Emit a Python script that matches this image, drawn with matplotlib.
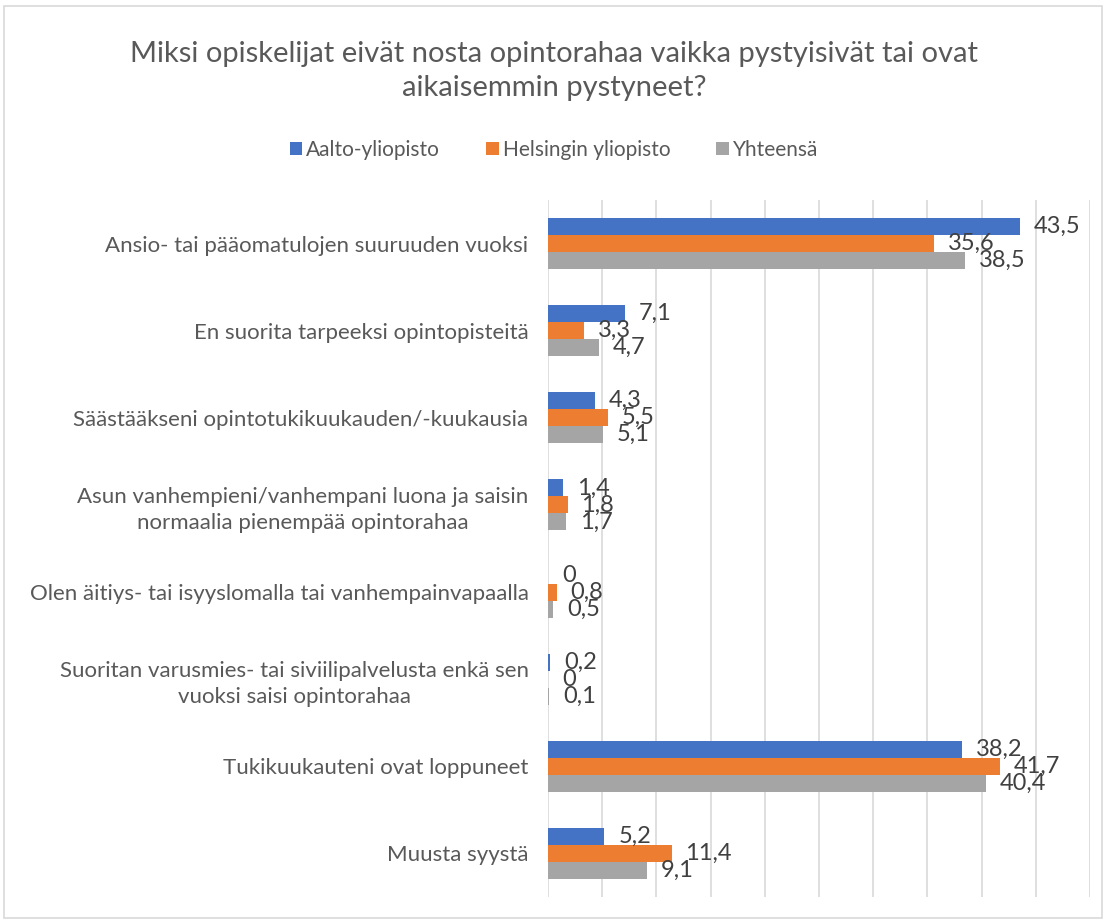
import numpy as np
import matplotlib.pyplot as plt
from matplotlib.patches import Rectangle

plt.rcParams['font.family'] = ['Lato', 'DejaVu Sans']

# Data
categories = [
    'Ansio- tai pääomatulojen suuruuden vuoksi',
    'En suorita tarpeeksi opintopisteitä',
    'Säästääkseni opintotukikuukauden/-kuukausia',
    'Asun vanhempieni/vanhempani luona ja saisin\nnormaalia pienempää opintorahaa',
    'Olen äitiys- tai isyyslomalla tai vanhempainvapaalla',
    'Suoritan varusmies- tai siviilipalvelusta enkä sen\nvuoksi saisi opintorahaa',
    'Tukikuukauteni ovat loppuneet',
    'Muusta syystä',
]
series_names = ['Aalto-yliopisto', 'Helsingin yliopisto', 'Yhteensä']
aalto = [43.5, 7.1, 4.3, 1.4, 0, 0.2, 38.2, 5.2]
helsinki = [35.6, 3.3, 5.5, 1.8, 0.8, 0, 41.7, 11.4]
total = [38.5, 4.7, 5.1, 1.7, 0.5, 0.1, 40.4, 9.1]
colors = ['#4472C4', '#ED7D31', '#A5A5A5']

fig = plt.figure(figsize=(11.08, 9.24), dpi=100)
ax = fig.add_axes([548 / 1108, 1 - 897 / 924, (1090 - 548) / 1108, (897 - 200) / 924])

# figure border
fig.patches.append(Rectangle((4 / 1108, 6 / 924), 1098 / 1108, 912 / 924,
                             transform=fig.transFigure, fill=False,
                             edgecolor='#D9D9D9', linewidth=1.2))

y = np.arange(len(categories))
h = 0.195
for k, (vals, col, name) in enumerate(zip([aalto, helsinki, total], colors, series_names)):
    pos = y + (k - 1) * h
    ax.barh(pos, vals, height=h, color=col, label=name, zorder=3)
    for p, v in zip(pos, vals):
        ax.annotate(f'{v:g}'.replace('.', ','), (v, p), xytext=(10, 0),
                    textcoords='offset points', ha='left', va='center',
                    fontsize=17, color='#404040', zorder=4)

ax.set_xlim(0, 50)
ax.set_ylim(len(categories) - 0.5, -0.5)
ax.set_xticks(np.arange(0, 51, 5))
ax.tick_params(axis='x', length=0, labelbottom=False)
ax.tick_params(axis='y', length=0, pad=14)
ax.set_yticks(y)
ax.set_yticklabels(categories, fontsize=16, color='#595959')
for t in ax.get_yticklabels():
    t.set_multialignment('center')
    t.set_linespacing(1.35)
ax.grid(axis='x', color='#D9D9D9', linewidth=1.2, zorder=0)
for s in ax.spines.values():
    s.set_visible(False)

fig.text(0.5, 1 - 71 / 924,
         'Miksi opiskelijat eivät nosta opintorahaa vaikka pystyisivät tai ovat\naikaisemmin pystyneet?',
         ha='center', va='center', fontsize=21, color='#595959', linespacing=1.4)

fig.legend(loc='center', bbox_to_anchor=(0.5, 1 - 150 / 924), ncol=3, frameon=False,
           fontsize=15, labelcolor='#595959', handlelength=0.6, handleheight=0.6,
           handletextpad=0.2, columnspacing=2.2)

fig.savefig('out.png', dpi=100)
